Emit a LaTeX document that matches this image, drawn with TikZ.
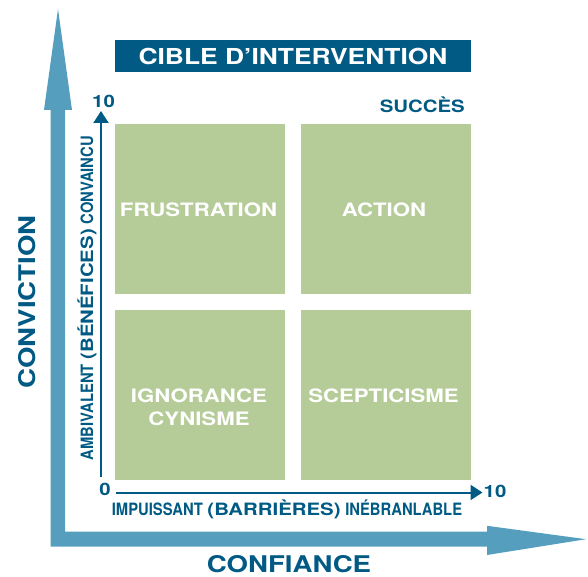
\documentclass[tikz,border=0pt]{standalone}
\usepackage{fontspec}
\setmainfont{TeX Gyre Heros}
\newfontfamily\widefont{TeX Gyre Heros}[FakeStretch=1.2]
\newfontfamily\condfont{TeX Gyre Heros}[FakeStretch=0.87]
\usetikzlibrary{arrows.meta}
\definecolor{deepblue}{HTML}{005A84}
\definecolor{skyblue}{HTML}{559EBE}
\definecolor{sage}{HTML}{B5CC98}

\begin{document}
\begin{tikzpicture}[x=1pt,y=-1pt,
  lbl/.style={inner sep=0pt, anchor=base, text=deepblue},
  bigtxt/.style={lbl, font={\widefont\bfseries\fontsize{23}{27}\selectfont}},
  midtxt/.style={lbl, font={\widefont\bfseries\fontsize{17}{20}\selectfont}},
  axistxt/.style={lbl, font={\bfseries\fontsize{17}{20}\selectfont}},
  quad/.style={fill=sage, draw=none, inner sep=0pt, minimum width=170pt, minimum height=170pt},
  quadtxt/.style={lbl, text=white, font={\widefont\bfseries\fontsize{18.5}{22}\selectfont}},
  titlebar/.style={fill=deepblue, text=white, inner sep=0pt, minimum width=356pt, minimum height=32pt,
    font={\widefont\bfseries\fontsize{22}{26}\selectfont}},
  scale axis/.style={draw=deepblue, line width=2pt, -{Triangle[length=12pt,width=15pt]}}
]
\useasboundingbox (0,0) rectangle (588,577);

% large L-shaped double arrow
\fill[skyblue] (50.7,546.7) -- (50.7,110) -- (44,110) -- (58,9) -- (72,110) -- (65,110)
  -- (65,531.7) -- (487,531.7) -- (487,525.8) -- (586,539.2) -- (487,555) -- (487,546.7) -- cycle;

% title bar
\node[titlebar] (title) at (293,56) {CIBLE D’INTERVENTION};

% four quadrants
\node[quad] (tl) at (200,209) {};
\node[quad] (tr) at (386,209) {};
\node[quad] (bl) at (200,394.5) {};
\node[quad] (br) at (386,394.5) {};

\node[quadtxt] (frus) at (198.5,217) {FRUSTRATION};
\node[quadtxt] (act) at (384,217) {ACTION};
\node[quadtxt] (ign) at (199,402.5) {IGNORANCE};
\node[quadtxt] (cyn) at (199,425) {CYNISME};
\node[quadtxt] (scep) at (383.5,402.5) {SCEPTICISME};

% scale axes
\coordinate (vstart) at (101,477);
\coordinate (vend) at (101,111);
\coordinate (hstart) at (116,492.5);
\coordinate (hend) at (482.5,492.5);
\draw[scale axis] (vstart) -- (vend);
\draw[scale axis] (hstart) -- (hend);

\node[midtxt] (ytop) at (103.5,108) {10};
\node[midtxt] (zero) at (105,495.5) {0};
\node[midtxt] (xtop) at (495,497.5) {10};
\node[midtxt, anchor=base east] (succ) at (465,113) {SUCCÈS};

% axis labels
\node[axistxt] (xlab) at (287,515)
  {{\condfont IMPUISSANT} {\widefont (BARRIÈRES)} {\condfont INÉBRANLABLE}};
\node[axistxt, rotate=90] (ylab) at (93,298)
  {{\condfont AMBIVALENT} {\widefont (BÉNÉFICES)} {\condfont CONVAINCU}};

\node[bigtxt] (conf) at (289,572) {CONFIANCE};
\node[bigtxt, rotate=90] (conv) at (35.5,302) {CONVICTION};
\end{tikzpicture}
\end{document}
